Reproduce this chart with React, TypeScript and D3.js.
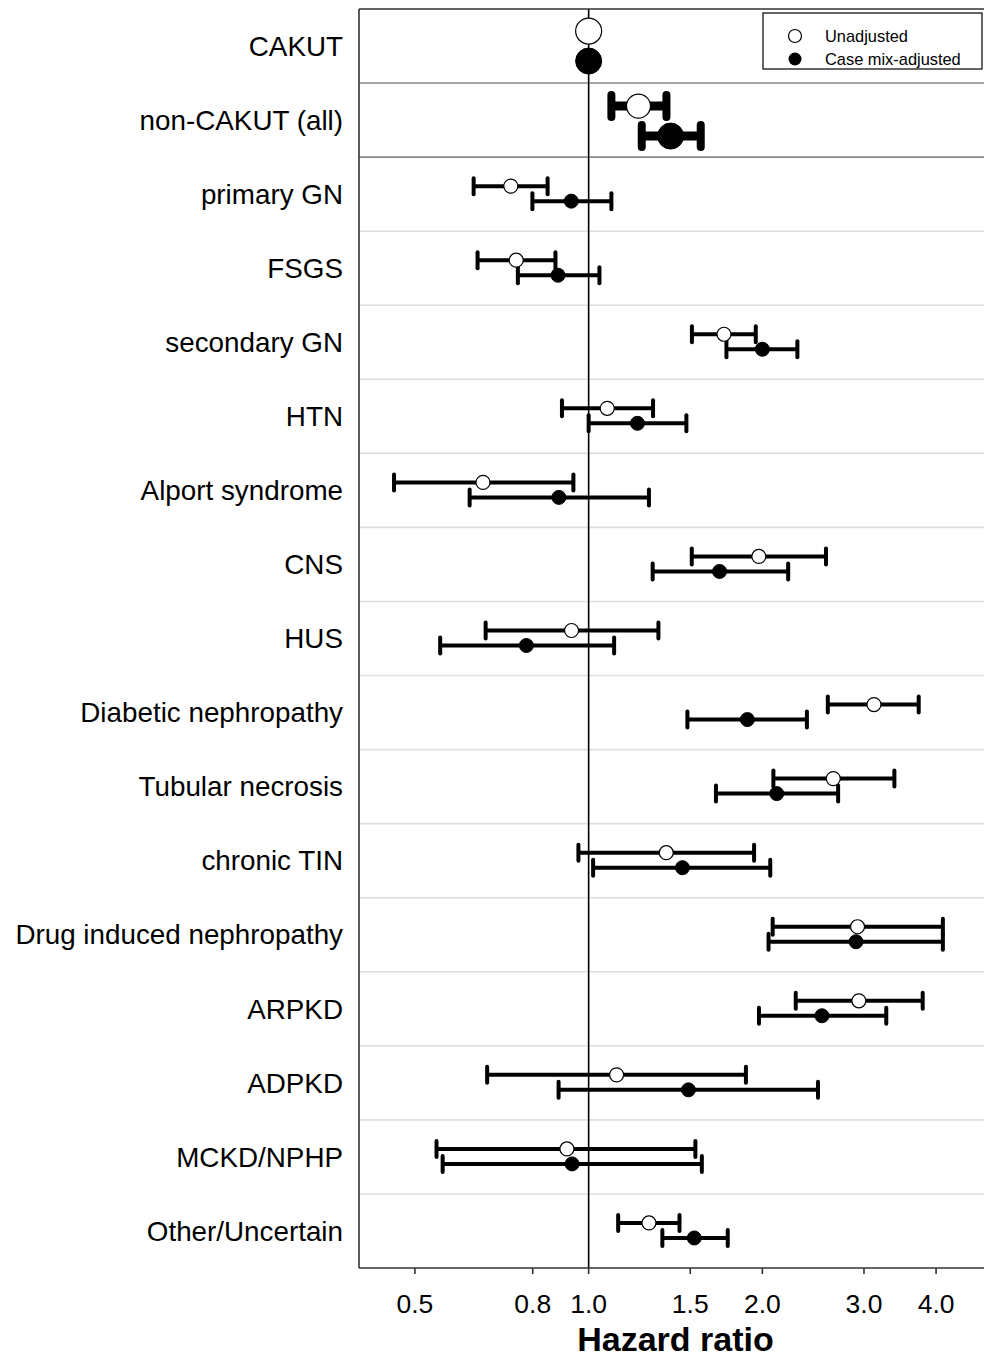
import React from "react";
import * as d3 from "d3";

const categories = [
  "CAKUT",
  "non-CAKUT (all)",
  "primary GN",
  "FSGS",
  "secondary GN",
  "HTN",
  "Alport syndrome",
  "CNS",
  "HUS",
  "Diabetic nephropathy",
  "Tubular necrosis",
  "chronic TIN",
  "Drug induced nephropathy",
  "ARPKD",
  "ADPKD",
  "MCKD/NPHP",
  "Other/Uncertain",
];

const unadjHR = [1.0, 1.22, 0.733, 0.749, 1.716, 1.077, 0.656, 1.972, 0.934, 3.122, 2.654, 1.363, 2.924, 2.939, 1.118, 0.917, 1.272];
const unadjLo = [NaN, 1.095, 0.632, 0.642, 1.51, 0.899, 0.46, 1.509, 0.663, 2.597, 2.09, 0.96, 2.084, 2.285, 0.667, 0.545, 1.125];
const unadjHi = [NaN, 1.364, 0.849, 0.876, 1.948, 1.293, 0.941, 2.578, 1.321, 3.732, 3.387, 1.935, 4.11, 3.792, 1.873, 1.531, 1.437];

const adjHR = [1.0, 1.387, 0.933, 0.885, 2.0, 1.215, 0.888, 1.686, 0.78, 1.884, 2.118, 1.454, 2.906, 2.537, 1.489, 0.936, 1.524];
const adjLo = [NaN, 1.236, 0.799, 0.754, 1.733, 1.0, 0.622, 1.291, 0.553, 1.483, 1.662, 1.018, 2.05, 1.973, 0.887, 0.5585, 1.342];
const adjHi = [NaN, 1.564, 1.095, 1.044, 2.3, 1.477, 1.272, 2.217, 1.107, 2.389, 2.706, 2.064, 4.11, 3.279, 2.497, 1.571, 1.742];

const tickValues = [0.5, 0.8, 1.0, 1.5, 2.0, 3.0, 4.0];
const tickLabels = ["0.5", "0.8", "1.0", "1.5", "2.0", "3.0", "4.0"];

const legendLabels = ["Unadjusted", "Case mix-adjusted"];
const xTitle = "Hazard ratio";

const FONT = "'Liberation Sans', Arial, Helvetica, sans-serif";

export default function App() {
  const W = 984;
  const H = 1355;
  const left = 359;
  const right = 992;
  const top = 9;
  const bottom = 1268;

  const x = d3.scaleLog().domain([0.4, 5]).range([left, right]);
  const y = d3.scaleBand<string>().domain(categories).range([top, bottom]).padding(0);
  const bw = y.bandwidth();

  const rows = categories.map((c, i) => {
    const big = i < 2;
    const cy = (y(c) as number) + bw / 2;
    return {
      c,
      i,
      big,
      cy,
      yU: cy + (big ? (i === 0 ? -15 : -14) : -8),
      yA: cy + (big ? (i === 0 ? 15 : 16) : 7),
    };
  });

  const errBar = (lo: number, hi: number, yy: number, big: boolean, key: string) => {
    if (!isFinite(lo) || !isFinite(hi)) return null;
    const sw = big ? 9 : 4;
    const ch = big ? 11 : 8;
    const cw = big ? 8 : 4;
    return (
      <g key={key}>
        <line x1={x(lo)} x2={x(hi)} y1={yy} y2={yy} stroke="#000" strokeWidth={sw} />
        <line x1={x(lo)} x2={x(lo)} y1={yy - ch} y2={yy + ch} stroke="#000" strokeWidth={cw} strokeLinecap="round" />
        <line x1={x(hi)} x2={x(hi)} y1={yy - ch} y2={yy + ch} stroke="#000" strokeWidth={cw} strokeLinecap="round" />
      </g>
    );
  };

  return (
    <svg
      width={W}
      height={H}
      style={{ position: "absolute", left: 0, top: 0, background: "#fff" }}
      fontFamily={FONT}
    >
      <rect x={0} y={0} width={W} height={H} fill="#fff" />
      {/* row separators */}
      {rows.slice(1).map((r) => (
        <line
          key={"sep" + r.i}
          x1={left}
          x2={right}
          y1={y(r.c) as number}
          y2={y(r.c) as number}
          stroke={r.i <= 2 ? "#8a8a8a" : "#dedede"}
          strokeWidth={1.6}
        />
      ))}
      {/* reference line at 1.0 */}
      <line x1={x(1)} x2={x(1)} y1={top} y2={bottom} stroke="#000" strokeWidth={1.6} />
      {/* frame */}
      <line x1={left} x2={right} y1={top} y2={top} stroke="#333" strokeWidth={1.6} />
      <line x1={left} x2={right} y1={bottom} y2={bottom} stroke="#333" strokeWidth={1.6} />
      <line x1={left} x2={left} y1={top} y2={bottom} stroke="#333" strokeWidth={1.6} />
      <line x1={right} x2={right} y1={top} y2={bottom} stroke="#333" strokeWidth={1.6} />

      {/* ticks */}
      {tickValues.map((t, k) => (
        <g key={"t" + k}>
          <line x1={x(t)} x2={x(t)} y1={bottom} y2={bottom + 6} stroke="#333" strokeWidth={1.6} />
          <text x={x(t)} y={1313} textAnchor="middle" fontSize={26.5} fill="#000">
            {tickLabels[k]}
          </text>
        </g>
      ))}
      <text x={(left + right) / 2} y={1351} textAnchor="middle" fontSize={34} fontWeight="bold" fill="#000">
        {xTitle}
      </text>

      {/* category labels */}
      {rows.map((r) => (
        <text key={"l" + r.i} x={343} y={r.cy} dy="0.35em" textAnchor="end" fontSize={27.8} fill="#000">
          {r.c}
        </text>
      ))}

      {/* error bars */}
      {rows.map((r) => errBar(unadjLo[r.i], unadjHi[r.i], r.yU, r.big, "eu" + r.i))}
      {rows.map((r) => errBar(adjLo[r.i], adjHi[r.i], r.yA, r.big, "ea" + r.i))}

      {/* points */}
      {rows.map((r) => (
        <circle
          key={"pu" + r.i}
          cx={x(unadjHR[r.i])}
          cy={r.yU}
          r={r.big ? (r.i === 0 ? 13 : 12) : 7}
          fill="#fff"
          stroke="#000"
          strokeWidth={1.2}
        />
      ))}
      {rows.map((r) => (
        <circle
          key={"pa" + r.i}
          cx={x(adjHR[r.i])}
          cy={r.yA}
          r={r.big ? 13 : 7}
          fill="#000"
          stroke="#000"
          strokeWidth={1}
        />
      ))}

      {/* legend */}
      <rect x={763} y={13} width={219} height={56} fill="#fff" stroke="#000" strokeWidth={1.2} />
      <circle cx={795} cy={36} r={6.5} fill="#fff" stroke="#000" strokeWidth={1.2} />
      <circle cx={795} cy={59} r={6.5} fill="#000" />
      <text x={825} y={42} fontSize={16.4} fill="#000">{legendLabels[0]}</text>
      <text x={825} y={65} fontSize={16.4} fill="#000">{legendLabels[1]}</text>
    </svg>
  );
}
